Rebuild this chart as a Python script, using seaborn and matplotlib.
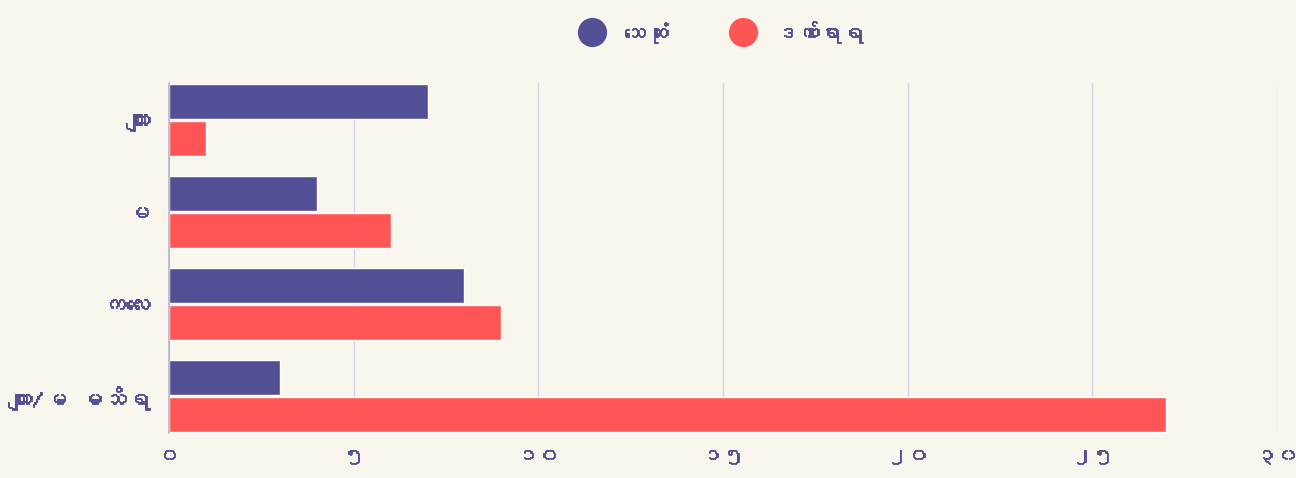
import pandas as pd
import seaborn as sns
import matplotlib.pyplot as plt
import matplotlib.patheffects as pe
from matplotlib import font_manager, ft2font
from matplotlib.lines import Line2D

# data
categories = ['ကျား', 'မ', 'ကလေး', 'ကျား/မ မသိရ']
dead = [7, 4, 8, 3]
injured = [1, 6, 9, 27]
series_names = ['သေဆုံး', 'ဒဏ်ရာရ']
xticks = [0, 5, 10, 15, 20, 25, 30]
xtick_labels = ['၀', '၅', '၁၀', '၁၅', '၂၀', '၂၅', '၃၀']

purple = '#534f94'
red = '#ff5555'
bg = '#f9f7ed'


def find_myanmar_font():
    # look for any installed font that has Myanmar glyphs
    for f in font_manager.fontManager.ttflist:
        try:
            cmap = ft2font.FT2Font(f.fname).get_charmap()
        except Exception:
            continue
        if 0x1000 in cmap and 0x1040 in cmap:
            return f.name
    return None


sns.set_style("white")
mm = find_myanmar_font()
families = ([mm] if mm else []) + ['DejaVu Sans']
plt.rcParams['font.family'] = families

# slightly thicker strokes so the text looks semi-bold like the reference
bold = [pe.withStroke(linewidth=0.6, foreground=purple)]

df = pd.DataFrame({
    'cat': categories * 2,
    'value': dead + injured,
    'kind': [series_names[0]] * 4 + [series_names[1]] * 4,
})

fig = plt.figure(figsize=(12.96, 4.78), dpi=100, facecolor=bg)
ax = fig.add_axes([0.1304, 0.0941, 0.8549, 0.7323])
ax.set_facecolor(bg)

sns.barplot(data=df, y='cat', x='value', hue='kind', orient='h',
            palette=[purple, red], width=0.8, gap=0.05,
            saturation=1, legend=False, ax=ax)

ax.set_xlim(0, 30)
ax.set_ylim(3.4, -0.4)
ax.set_xticks(xticks)
ax.set_xticklabels(xtick_labels, fontsize=15, color=purple)
ax.tick_params(axis='y', labelsize=17, colors=purple, length=0, pad=14)
ax.tick_params(axis='x', length=0, pad=10)
for lab in ax.get_yticklabels() + ax.get_xticklabels():
    lab.set_color(purple)
    lab.set_path_effects(bold)
ax.set_xlabel('')
ax.set_ylabel('')
ax.grid(axis='x', color='#d6d2e6', linewidth=1)
ax.set_axisbelow(True)
for s in ['top', 'right', 'bottom']:
    ax.spines[s].set_visible(False)
ax.spines['left'].set_color('#b8b4cc')
ax.spines['left'].set_linewidth(1.2)

handles = [Line2D([], [], marker='o', linestyle='', markersize=20,
                  markerfacecolor=c, markeredgecolor=c) for c in (purple, red)]
leg = fig.legend(handles, series_names, loc='upper center',
                 bbox_to_anchor=(0.553, 1.0), ncol=2, frameon=False,
                 fontsize=16, handletextpad=0.4, columnspacing=2.4)
for t in leg.get_texts():
    t.set_color(purple)
    t.set_path_effects(bold)

fig.savefig('out.png', dpi=100, facecolor=bg)
